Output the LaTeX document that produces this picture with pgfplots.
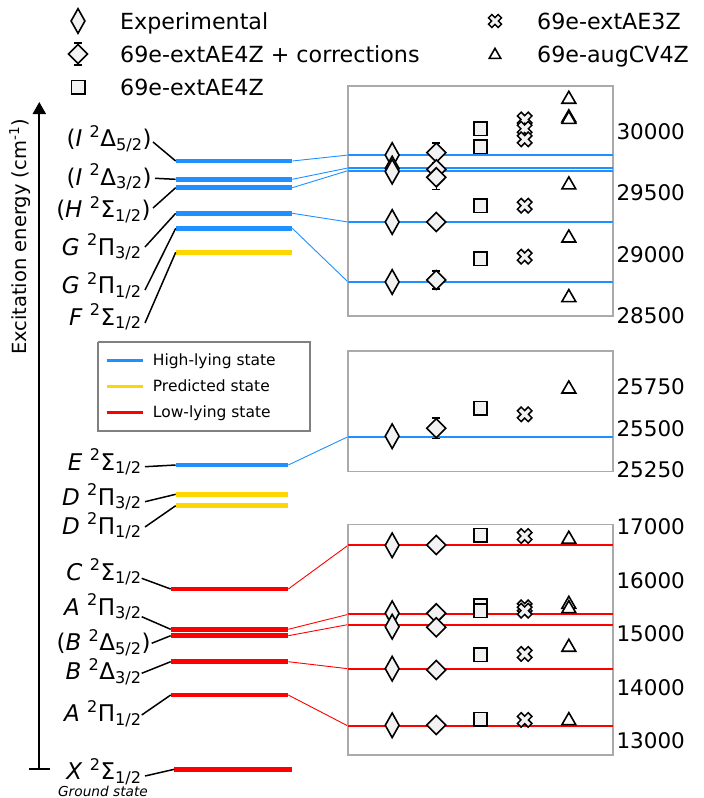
\documentclass[border=0pt]{standalone}
\usepackage{pgfplots}
\pgfplotsset{compat=1.18}
\usepackage{fontspec}
\setmainfont{DejaVu Sans}
\usetikzlibrary{arrows.meta}

\definecolor{hiblue}{HTML}{1E90FF}
\definecolor{pred}{HTML}{FFD700}
\definecolor{lowred}{HTML}{FF0000}
\definecolor{mfill}{HTML}{F2F2F2}
\definecolor{boxgray}{HTML}{AAAAAA}
\definecolor{leggray}{HTML}{808080}

\newcommand{\lbl}{\fontsize{23}{27}\selectfont}
\newcommand{\leg}{\fontsize{22.2}{26}\selectfont}
\newcommand{\tck}{\fontsize{21.5}{25}\selectfont}
\newcommand{\sleg}{\fontsize{15.5}{18}\selectfont}
\newcommand{\gs}{\fontsize{13.7}{16}\selectfont\itshape}
\newcommand{\ylab}{\fontsize{19.5}{23}\selectfont}
\newcommand{\st}[3]{\textit{#1} \textsuperscript{2}#2\textsubscript{#3}}

\pgfdeclareplotmark{fatx}{%
  \pgftransformrotate{45}%
  \pgfpathmoveto{\pgfqpoint{.35\pgfplotmarksize}{\pgfplotmarksize}}%
  \pgfpathlineto{\pgfqpoint{.35\pgfplotmarksize}{.35\pgfplotmarksize}}%
  \pgfpathlineto{\pgfqpoint{\pgfplotmarksize}{.35\pgfplotmarksize}}%
  \pgfpathlineto{\pgfqpoint{\pgfplotmarksize}{-.35\pgfplotmarksize}}%
  \pgfpathlineto{\pgfqpoint{.35\pgfplotmarksize}{-.35\pgfplotmarksize}}%
  \pgfpathlineto{\pgfqpoint{.35\pgfplotmarksize}{-\pgfplotmarksize}}%
  \pgfpathlineto{\pgfqpoint{-.35\pgfplotmarksize}{-\pgfplotmarksize}}%
  \pgfpathlineto{\pgfqpoint{-.35\pgfplotmarksize}{-.35\pgfplotmarksize}}%
  \pgfpathlineto{\pgfqpoint{-\pgfplotmarksize}{-.35\pgfplotmarksize}}%
  \pgfpathlineto{\pgfqpoint{-\pgfplotmarksize}{.35\pgfplotmarksize}}%
  \pgfpathlineto{\pgfqpoint{-.35\pgfplotmarksize}{.35\pgfplotmarksize}}%
  \pgfpathlineto{\pgfqpoint{-.35\pgfplotmarksize}{\pgfplotmarksize}}%
  \pgfpathclose
  \pgfusepathqfillstroke
}

\pgfplotsset{
  mexp/.style={only marks, mark=diamond*, mark size=12.3pt,
    mark options={draw=black, fill=mfill, line width=1.6pt, xscale=0.75, solid}},
  mcorr/.style={only marks, mark=diamond*, mark size=9.5pt,
    mark options={draw=black, fill=mfill, line width=1.6pt, xscale=1.333, solid},
    error bars/.cd, y dir=both, y explicit,
    error bar style={black, line width=1.6pt},
    error mark options={black, line width=1.6pt, mark size=4pt, rotate=90}},
  msq/.style={only marks, mark=square*, mark size=6.7pt,
    mark options={draw=black, fill=mfill, line width=1.6pt, solid}},
  mx/.style={only marks, mark=fatx, mark size=7.6pt,
    mark options={draw=black, fill=mfill, line width=1.5pt, solid}},
  mtri/.style={only marks, mark=triangle*, mark size=8pt,
    mark options={draw=black, fill=white, line width=1.6pt, solid}},
  panel/.style={anchor=south west, width=265pt, scale only axis,
    xmin=0, xmax=6, xtick=\empty, yticklabel pos=right,
    major tick length=0pt, scaled y ticks=false,
    axis line style={boxgray, line width=1.2pt},
    yticklabel style={font=\tck},
    /pgf/number format/1000 sep={},
    /pgf/number format/assume math mode=true},
}

\begin{document}
\begin{tikzpicture}
% ---------------- main overlay (pixel coordinates) ----------------
\begin{axis}[at={(0pt,0pt)}, anchor=south west, width=704pt, height=798pt,
  scale only axis, xmin=0, xmax=704, ymin=0, ymax=798, y dir=reverse,
  hide axis, clip=false]
% vertical energy arrow
\addplot[black, line width=2pt, -{Triangle[length=12pt, width=13pt]}] coordinates {(39.3,769) (39.3,102)};
\addplot[black, line width=2pt] coordinates {(29,769) (50,769)};
\node[rotate=90, anchor=center, font=\ylab, inner sep=0pt] at (axis cs:20,237) {Excitation energy (cm\textsuperscript{-1})};

% level bars
\addplot[hiblue, line width=4.5pt] coordinates {(175.7,161) (292.3,161)};
\addplot[hiblue, line width=4.5pt] coordinates {(175.7,179.3) (292.3,179.3)};
\addplot[hiblue, line width=4.5pt] coordinates {(175.7,187.7) (292.3,187.7)};
\addplot[hiblue, line width=4.5pt] coordinates {(175.7,213.3) (292.3,213.3)};
\addplot[hiblue, line width=4.5pt] coordinates {(175.7,228.3) (292.3,228.3)};
\addplot[pred, line width=4.5pt] coordinates {(175.7,252.3) (292.3,252.3)};
\addplot[hiblue, line width=4.5pt] coordinates {(175.7,465) (288.3,465)};
\addplot[pred, line width=4.5pt] coordinates {(175.7,494.3) (288.3,494.3)};
\addplot[pred, line width=4.5pt] coordinates {(175.7,505.7) (288.3,505.7)};
\addplot[lowred, line width=4.5pt] coordinates {(170.7,589) (288.3,589)};
\addplot[lowred, line width=4.5pt] coordinates {(170.7,629.3) (288.3,629.3)};
\addplot[lowred, line width=4.5pt] coordinates {(170.7,635.7) (288.3,635.7)};
\addplot[lowred, line width=4.5pt] coordinates {(170.7,661.7) (288.3,661.7)};
\addplot[lowred, line width=4.5pt] coordinates {(170.7,695) (288.3,695)};
\addplot[lowred, line width=4.5pt] coordinates {(174.3,769.3) (292.3,769.3)};

% leaders from labels to bars
\addplot[black, line width=1.5pt] coordinates {(153,142) (175.7,161)};
\addplot[black, line width=1.5pt] coordinates {(155,178.3) (175.7,179.3)};
\addplot[black, line width=1.5pt] coordinates {(153,208) (175.7,187.7)};
\addplot[black, line width=1.5pt] coordinates {(145,247) (175.7,213.3)};
\addplot[black, line width=1.5pt] coordinates {(145,290) (175.7,228.3)};
\addplot[black, line width=1.5pt] coordinates {(145,323) (175.7,252.3)};
\addplot[black, line width=1.5pt] coordinates {(145,466.7) (175.7,465)};
\addplot[black, line width=1.5pt] coordinates {(145,501.7) (175.7,494.3)};
\addplot[black, line width=1.5pt] coordinates {(145,527) (175.7,505.7)};
\addplot[black, line width=1.5pt] coordinates {(141.7,578.3) (170.7,589)};
\addplot[black, line width=1.5pt] coordinates {(141.7,616.7) (170.7,629.3)};
\addplot[black, line width=1.5pt] coordinates {(151.7,643.3) (170.7,635.7)};
\addplot[black, line width=1.5pt] coordinates {(141.7,673.3) (170.7,661.7)};
\addplot[black, line width=1.5pt] coordinates {(141.7,715) (170.7,695)};
\addplot[black, line width=1.5pt] coordinates {(145,776) (174.3,769.3)};

% connectors to panels
\addplot[hiblue, line width=0.9pt] coordinates {(292.3,161) (348,155.05)};
\addplot[hiblue, line width=0.9pt] coordinates {(292.3,179.3) (348,167.95)};
\addplot[hiblue, line width=0.9pt] coordinates {(292.3,187.7) (348,170.65)};
\addplot[hiblue, line width=0.9pt] coordinates {(292.3,213.3) (348,222)};
\addplot[hiblue, line width=0.9pt] coordinates {(292.3,228.3) (348,281.96)};
\addplot[hiblue, line width=0.9pt] coordinates {(288.3,465) (348,436.7)};
\addplot[lowred, line width=0.9pt] coordinates {(288.3,589) (348,545.3)};
\addplot[lowred, line width=0.9pt] coordinates {(288.3,629.3) (348,614.4)};
\addplot[lowred, line width=0.9pt] coordinates {(288.3,635.7) (348,624.6)};
\addplot[lowred, line width=0.9pt] coordinates {(288.3,661.7) (348,668.7)};
\addplot[lowred, line width=0.9pt] coordinates {(288.3,695) (348,726)};

% state labels
\node[anchor=base east, font=\lbl, inner sep=0pt] at (axis cs:151.7,146.7) {(\st{I}{Δ}{5/2})};
\node[anchor=base east, font=\lbl, inner sep=0pt] at (axis cs:151.7,185) {(\st{I}{Δ}{3/2})};
\node[anchor=base east, font=\lbl, inner sep=0pt] at (axis cs:150.7,217.3) {(\st{H}{Σ}{1/2})};
\node[anchor=base east, font=\lbl, inner sep=0pt] at (axis cs:141.7,255) {\st{G}{Π}{3/2}};
\node[anchor=base east, font=\lbl, inner sep=0pt] at (axis cs:141.7,293.3) {\st{G}{Π}{1/2}};
\node[anchor=base east, font=\lbl, inner sep=0pt] at (axis cs:141.7,325) {\st{F}{Σ}{1/2}};
\node[anchor=base east, font=\lbl, inner sep=0pt] at (axis cs:141.7,470) {\st{E}{Σ}{1/2}};
\node[anchor=base east, font=\lbl, inner sep=0pt] at (axis cs:141.7,505) {\st{D}{Π}{3/2}};
\node[anchor=base east, font=\lbl, inner sep=0pt] at (axis cs:141.7,534) {\st{D}{Π}{1/2}};
\node[anchor=base east, font=\lbl, inner sep=0pt] at (axis cs:141.7,580) {\st{C}{Σ}{1/2}};
\node[anchor=base east, font=\lbl, inner sep=0pt] at (axis cs:141.7,615) {\st{A}{Π}{3/2}};
\node[anchor=base east, font=\lbl, inner sep=0pt] at (axis cs:150.7,650.7) {(\st{B}{Δ}{5/2})};
\node[anchor=base east, font=\lbl, inner sep=0pt] at (axis cs:141.7,679.3) {\st{B}{Δ}{3/2}};
\node[anchor=base east, font=\lbl, inner sep=0pt] at (axis cs:141.7,721.7) {\st{A}{Π}{1/2}};
\node[anchor=base east, font=\lbl, inner sep=0pt] at (axis cs:141.7,779.3) {\st{X}{Σ}{1/2}};
\node[anchor=base, font=\gs, inner sep=0pt] at (axis cs:103,796) {Ground state};

% colour legend box
\addplot[leggray, line width=1.8pt] coordinates {(97.7,342.3) (310,342.3) (310,431) (97.7,431) (97.7,342.3)};
\addplot[hiblue, line width=3pt] coordinates {(106.7,360) (143.3,360)};
\addplot[pred, line width=3pt] coordinates {(106.7,386.7) (143.3,386.7)};
\addplot[lowred, line width=3pt] coordinates {(106.7,412.7) (143.3,412.7)};
\node[anchor=base west, font=\sleg, inner sep=0pt] at (axis cs:152.7,365) {High-lying state};
\node[anchor=base west, font=\sleg, inner sep=0pt] at (axis cs:152.7,391.7) {Predicted state};
\node[anchor=base west, font=\sleg, inner sep=0pt] at (axis cs:152.7,417.3) {Low-lying state};

% marker legend
\addplot[mexp] coordinates {(78,21)};
\addplot[mcorr] coordinates {(78,54) +- (0,11)};
\addplot[msq] coordinates {(78,87)};
\addplot[mx, mark size=6.8pt] coordinates {(495,21)};
\addplot[mtri, mark size=6.6pt] coordinates {(495,55)};
\node[anchor=base west, font=\leg, inner sep=0pt] at (axis cs:120,29) {Experimental};
\node[anchor=base west, font=\leg, inner sep=0pt] at (axis cs:120,62) {69e-extAE4Z + corrections};
\node[anchor=base west, font=\leg, inner sep=0pt] at (axis cs:120,95) {69e-extAE4Z};
\node[anchor=base west, font=\leg, inner sep=0pt] at (axis cs:537,29) {69e-extAE3Z};
\node[anchor=base west, font=\leg, inner sep=0pt] at (axis cs:537,62) {69e-augCV4Z};
\end{axis}

% ---------------- top panel ----------------
\begin{axis}[panel, at={(348pt,482pt)}, height=230pt,
  ymin=28500, ymax=30372, ytick={28500,29000,29500,30000}]
\addplot[hiblue, line width=2pt] coordinates {(0,29810) (6,29810)};
\addplot[hiblue, line width=2pt] coordinates {(0,29705) (6,29705)};
\addplot[hiblue, line width=2pt] coordinates {(0,29683) (6,29683)};
\addplot[hiblue, line width=2pt] coordinates {(0,29265) (6,29265)};
\addplot[hiblue, line width=2pt] coordinates {(0,28777) (6,28777)};
\addplot[mexp] coordinates {(1,29810) (1,29700) (1,29675) (1,29265) (1,28777)};
\addplot[mcorr] coordinates {(2,29830) +- (0,80) (2,29694) +- (0,0) (2,29629) +- (0,100) (2,29265) +- (0,0) (2,28793) +- (0,73)};
\addplot[msq] coordinates {(3,30024) (3,29878) (3,29398) (3,28964)};
\addplot[mx] coordinates {(4,30100) (4,30024) (4,29938) (4,29398) (4,28983)};
\addplot[mtri] coordinates {(5,30264) (5,30113) (5,30100) (5,29567) (5,29135) (5,28650)};
\end{axis}

% ---------------- middle panel ----------------
\begin{axis}[panel, at={(348pt,326.3pt)}, height=120.7pt,
  ymin=25238, ymax=25966, ytick={25250,25500,25750}]
\addplot[hiblue, line width=2pt] coordinates {(0,25449) (6,25449)};
\addplot[mexp] coordinates {(1,25452)};
\addplot[mcorr] coordinates {(2,25500) +- (0,62)};
\addplot[msq] coordinates {(3,25620)};
\addplot[mx] coordinates {(4,25584)};
\addplot[mtri] coordinates {(5,25737)};
\end{axis}

% ---------------- bottom panel ----------------
\begin{axis}[panel, at={(348pt,43pt)}, height=230.3pt,
  ymin=12732, ymax=17045, ytick={13000,14000,15000,16000,17000}]
\addplot[lowred, line width=2pt] coordinates {(0,16659) (6,16659)};
\addplot[lowred, line width=2pt] coordinates {(0,15365) (6,15365)};
\addplot[lowred, line width=2pt] coordinates {(0,15175) (6,15175)};
\addplot[lowred, line width=2pt] coordinates {(0,14349) (6,14349)};
\addplot[lowred, line width=2pt] coordinates {(0,13275) (6,13275)};
\addplot[mexp] coordinates {(1,16659) (1,15386) (1,15135) (1,14349) (1,13288)};
\addplot[mcorr] coordinates {(2,16665) +- (0,0) (2,15386) +- (0,0) (2,15124) +- (0,0) (2,14324) +- (0,0) (2,13294) +- (0,0)};
\addplot[msq] coordinates {(3,16846) (3,15528) (3,15434) (3,14605) (3,13401)};
\addplot[mx] coordinates {(4,16833) (4,15498) (4,15434) (4,14624) (4,13388)};
\addplot[mtri] coordinates {(5,16773) (5,15554) (5,15472) (5,14749) (5,13375)};
\end{axis}

\pgfresetboundingbox
\useasboundingbox (0pt,0pt) rectangle (704pt,798pt);
\end{tikzpicture}
\end{document}
